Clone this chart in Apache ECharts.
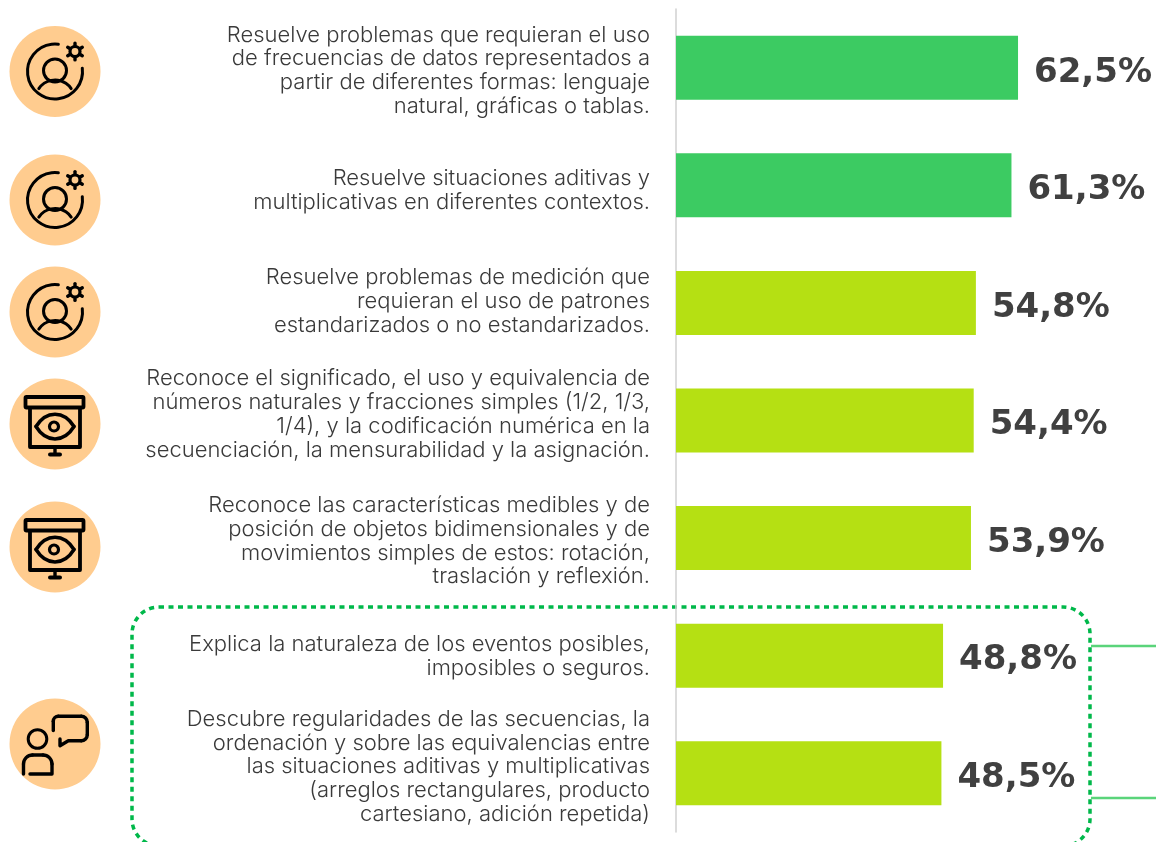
<!DOCTYPE html>
<html>
<head>
<meta charset="UTF-8"/>
<title></title>
<style>html,body{margin:0;padding:0;background:#fff}#placeholder{width:1156px;height:842px}</style>
<script src="https://cdn.jsdelivr.net/npm/echarts@6/dist/echarts.min.js"></script>
</head>
<body>
<div id="placeholder"></div>
<script type="text/javascript">
var categories = [
  'Resuelve problemas que requieran el uso\nde frecuencias de datos representados a\npartir de diferentes formas: lenguaje\nnatural, gráficas o tablas.',
  'Resuelve situaciones aditivas y\nmultiplicativas en diferentes contextos.',
  'Resuelve problemas de medición que\nrequieran el uso de patrones\nestandarizados o no estandarizados.',
  'Reconoce el significado, el uso y equivalencia de\nnúmeros naturales y fracciones simples (1/2, 1/3,\n1/4), y la codificación numérica en la\nsecuenciación, la mensurabilidad y la asignación.',
  'Reconoce las características medibles y de\nposición de objetos bidimensionales y de\nmovimientos simples de estos: rotación,\ntraslación y reflexión.',
  'Explica la naturaleza de los eventos posibles,\nimposibles o seguros.',
  'Descubre regularidades de las secuencias, la\nordenación y sobre las equivalencias entre\nlas situaciones aditivas y multiplicativas\n(arreglos rectangulares, producto\ncartesiano, adición repetida)'
];
var percents = [62.5, 61.3, 54.8, 54.4, 53.9, 48.8, 48.5];
// los textos no van centrados respecto a la barra en el original
var labelShift = [3, 5, -1.5, -6, 3, 1, -6.5];

var GREEN = '#3ccb62', LIME = '#b5e013', PEACH = '#ffcc8f', INK = '#000';
var LINE_H = 23.8;
var deg = Math.PI / 180;

function stroke(w) { return {stroke: INK, fill: 'none', lineWidth: w, lineCap: 'round', lineJoin: 'round'}; }
function arc(cx, cy, r, a, b, w) {
  return {type: 'arc', shape: {cx: cx, cy: cy, r: r, startAngle: a * deg, endAngle: b * deg, clockwise: true}, style: stroke(w)};
}
function ring(cx, cy, r, w) {
  return {type: 'circle', shape: {cx: cx, cy: cy, r: r}, style: stroke(w)};
}
function seg(x1, y1, x2, y2, w) {
  return {type: 'line', shape: {x1: x1, y1: y1, x2: x2, y2: y2}, style: stroke(w)};
}

// iconos del lado izquierdo
function personGear() {
  var c = [
    arc(0, 0, 27.5, -7, 277, 3),
    ring(0, -1, 11.5, 3),
    arc(0, 28, 19.5, 214, 326, 3),
    ring(20, -20, 5, 3.2)
  ];
  for (var i = 0; i < 6; i++) {
    var a = i * 60 + 30;
    c.push(seg(20 + 6 * Math.cos(a * deg), -20 + 6 * Math.sin(a * deg),
               20 + 8.4 * Math.cos(a * deg), -20 + 8.4 * Math.sin(a * deg), 3.4));
  }
  return c;
}
function screenEye() {
  return [
    {type: 'rect', shape: {x: -29.5, y: -27, width: 58, height: 10.5, r: 1}, style: stroke(3.8)},
    {type: 'polyline', shape: {points: [[-25, -16], [-25, 23], [25, 23], [25, -16]]}, style: stroke(3.8)},
    seg(0, 23, 0, 30, 3.4),
    seg(-5, 30.5, 5, 30.5, 4),
    {type: 'bezierCurve', shape: {x1: -19, y1: 2.5, x2: 19, y2: 2.5, cpx1: -9, cpy1: -14, cpx2: 9, cpy2: -14}, style: stroke(3.5)},
    {type: 'bezierCurve', shape: {x1: -19, y1: 2.5, x2: 19, y2: 2.5, cpx1: -9, cpy1: 19, cpx2: 9, cpy2: 19}, style: stroke(3.5)},
    ring(-1, 2.5, 4.5, 3.2)
  ];
}
function talkers() {
  return [
    ring(-17.5, -5, 9.3, 3),
    {type: 'polyline', shape: {points: [[-31.5, 30], [-31.5, 20]]}, style: stroke(3.4)},
    arc(-22.5, 20, 9, 180, 270, 3.4),
    seg(-22.5, 11, -12, 11, 3.4),
    arc(-12, 20, 9, 270, 360, 3.4),
    {type: 'polyline', shape: {points: [[-3, 20], [-3, 30], [-25, 30]]}, style: stroke(3.4)},
    {type: 'polyline', shape: {points: [[-1.7, -13.5], [-1.7, -22.7]]}, style: stroke(3.4)},
    arc(3.3, -22.7, 5, 180, 270, 3.4),
    seg(3.3, -27.7, 26.3, -27.7, 3.4),
    arc(26.3, -21.7, 6, 270, 360, 3.4),
    seg(32.3, -21.7, 32.3, -9.3, 3.4),
    arc(26.3, -9.3, 6, 0, 90, 3.4),
    {type: 'polyline', shape: {points: [[26.3, -3.3], [13.3, -3.3], [5, 1.7], [5, -5]]}, style: stroke(3.4)}
  ];
}
function badge(cy, icon) {
  return {
    type: 'group', x: 55, y: cy,
    children: [{type: 'circle', shape: {cx: 0, cy: 0, r: 45.5}, style: {fill: PEACH}}].concat(icon)
  };
}

var myChart = echarts.init(document.getElementById('placeholder'));
var option = {
  animation: false,
  backgroundColor: '#fff',
  grid: {left: 676, top: 9, width: 437.8, height: 823, containLabel: false},
  xAxis: {type: 'value', min: 0, max: 80, show: false},
  yAxis: {
    type: 'category',
    inverse: true,
    data: categories.map(function (c, i) {
      // en texto plano el padding solo mueve el bloque si va alineado arriba
      var lines = c.split('\n').length;
      return {value: c, textStyle: {verticalAlign: 'top', padding: [labelShift[i] - lines * LINE_H / 2, 0, 0, 0]}};
    }),
    axisLine: {show: true, lineStyle: {color: '#d0d0d0', width: 1.5}},
    axisTick: {show: false},
    axisLabel: {
      interval: 0, margin: 26, align: 'right',
      fontFamily: 'Inter', fontWeight: 300, fontSize: 22, lineHeight: LINE_H, color: '#3a3a3a'
    }
  },
  series: [{
    type: 'bar',
    barWidth: 64,
    data: percents,
    itemStyle: {
      color: function (p) { return p.value >= 60 ? GREEN : LIME; }
    },
    label: {
      show: true, position: 'right', distance: 16, offset: [0, 5],
      fontFamily: 'DejaVu Sans', fontWeight: 'bold', fontSize: 34, color: '#404040',
      formatter: function (p) { return p.value.toFixed(1).replace('.', ',') + '%'; }
    }
  }],
  graphic: {elements: [
    badge(71.5, personGear()),
    badge(200, personGear()),
    badge(312, personGear()),
    badge(424, screenEye()),
    badge(547, screenEye()),
    badge(744, talkers()),
    {type: 'rect', shape: {x: 132, y: 607, width: 958, height: 239, r: 27},
     style: {fill: 'none', stroke: '#00b84a', lineWidth: 3.5, lineDash: [5, 4.5]}},
    seg(1091, 646, 1156, 646, 2.5),
    seg(1091, 798, 1156, 798, 2.5)
  ].map(function (el) {
    if (el.type === 'line') { el.style = {stroke: '#5ad47a', lineWidth: 2.5}; }
    return el;
  })}
};
myChart.setOption(option, true);
</script>
</body>
</html>
